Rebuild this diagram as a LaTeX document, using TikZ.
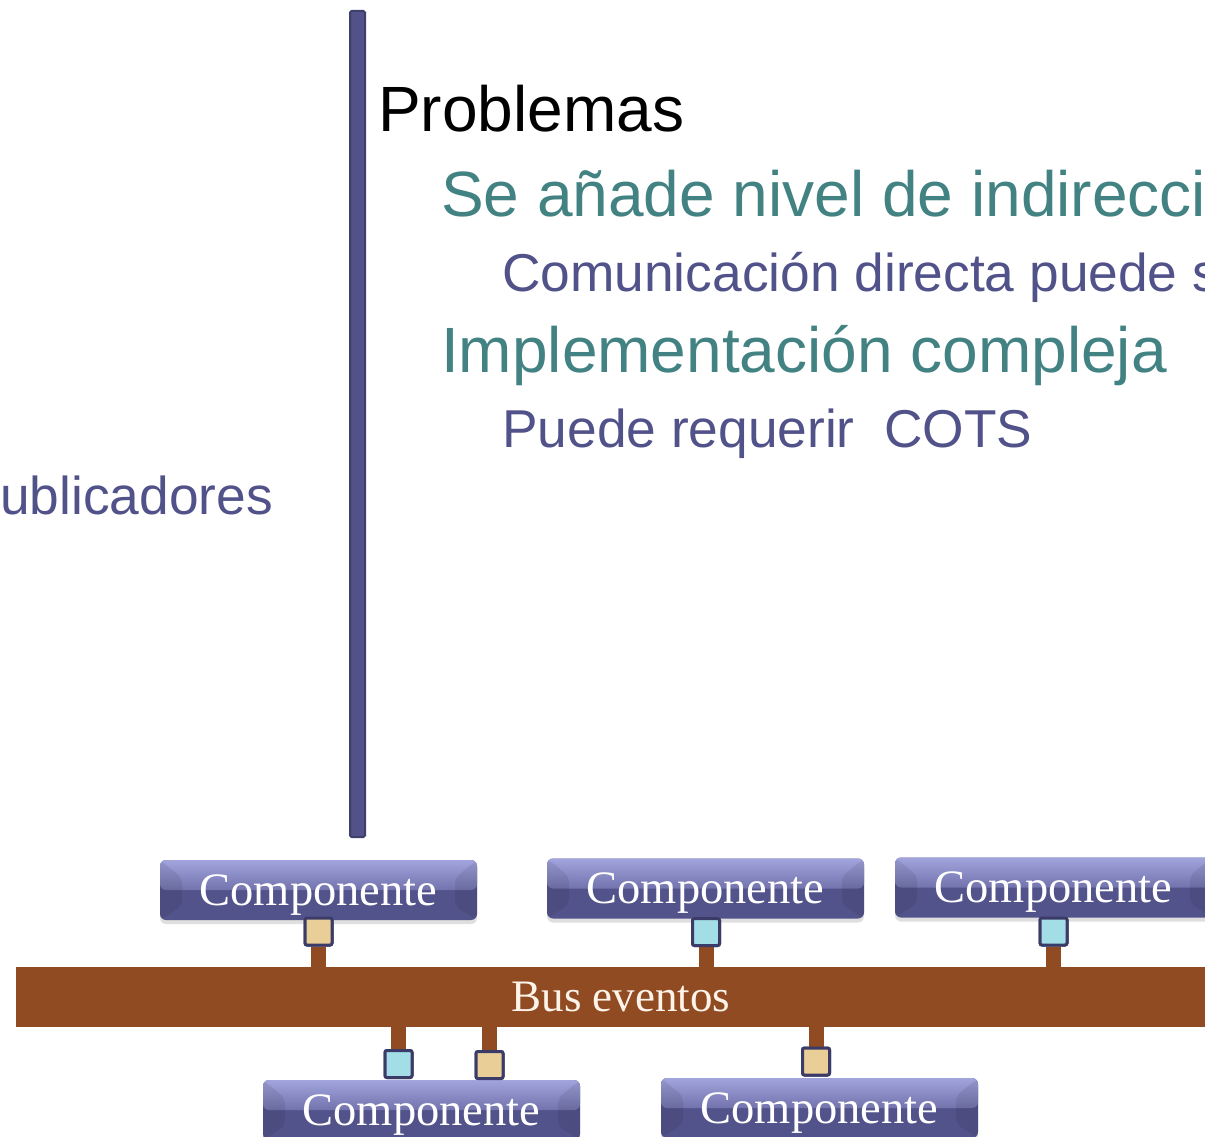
\documentclass[tikz,border=0pt]{standalone}
\usepackage{fontspec}
\setmainfont{Liberation Serif}
\setsansfont{Liberation Sans}
\usetikzlibrary{shadows}
\definecolor{teal1}{HTML}{438283}
\definecolor{purp}{HTML}{52528A}
\definecolor{busc}{HTML}{914B22}
\definecolor{bustext}{HTML}{FDF3E8}
\definecolor{barfill}{HTML}{525288}
\definecolor{barline}{HTML}{3F3F6B}
\definecolor{portline}{HTML}{3B3B68}
\definecolor{beige}{HTML}{E9CF97}
\definecolor{cyanp}{HTML}{A3DDE6}
\definecolor{cb}{HTML}{53538C}
\definecolor{ct}{HTML}{A2A4DE}
\tikzset{
  txt/.style={anchor=base west, inner sep=0pt, font=\sffamily\fontsize{64}{70}\selectfont},
  subtxt/.style={anchor=base west, inner sep=0pt, font=\sffamily\fontsize{53.3}{60}\selectfont, text=purp},
  compbox/.style={rectangle, rounded corners=6pt, minimum width=317pt, minimum height=60pt,
    fill=cb, text=white, inner sep=0pt, text height=32pt, text depth=2pt,
    font=\fontsize{46.5}{50}\selectfont,
    drop shadow={shadow xshift=0pt, shadow yshift=-4pt, opacity=0.25, fill=black!50},
    path picture={
      \shade[top color=ct, bottom color=cb, middle color=cb!60!ct] (path picture bounding box.north west) rectangle ([yshift=-30pt]path picture bounding box.north east);
      \fill[black,opacity=0.08] (path picture bounding box.north west) -- ([xshift=22pt,yshift=-18pt]path picture bounding box.north west) -- ([xshift=22pt,yshift=14pt]path picture bounding box.south west) -- (path picture bounding box.south west) -- cycle;
      \fill[black,opacity=0.08] (path picture bounding box.north east) -- ([xshift=-22pt,yshift=-18pt]path picture bounding box.north east) -- ([xshift=-22pt,yshift=14pt]path picture bounding box.south east) -- (path picture bounding box.south east) -- cycle;
    }},
  port/.style={rectangle, minimum size=27pt, inner sep=0pt, draw=portline, line width=3pt, rounded corners=2pt},
  stem/.style={draw=busc, line width=15pt},
}
\begin{document}
\begin{tikzpicture}[x=1pt,y=-1pt]
\useasboundingbox (0,0) rectangle (1205,1137);
\clip (0,0) rectangle (1205,1137);
\fill[white] (0,0) rectangle (1205,1137);
% vertical bar
\draw[fill=barfill, draw=barline, line width=2pt, rounded corners=1.5pt] (350,11) rectangle (365,837);
% texts
\node[txt, text=black] (t1) at (378,132) {Problemas};
\node[txt, text=teal1] (t2) at (441,216) {Se añade nivel de indirecci};
\node[subtxt] (t3) at (502,291) {Comunicación directa puede s};
\node[txt, text=teal1] (t4) at (441,372) {Implementación compleja};
\node[subtxt] (t5) at (502,447) {Puede requerir~~COTS};
\node[subtxt, anchor=base east] (t6) at (273,514) {ublicadores};
% bus
\node[rectangle, fill=busc, minimum width=1210pt, minimum height=60pt, inner sep=0pt, text=bustext, font=\fontsize{45}{48}\selectfont] (bus) at (621,997) {Bus eventos};
% ports
\node[port, fill=beige] (p1) at (318.5,931.5) {};
\node[port, fill=cyanp] (p2) at (706,932) {};
\node[port, fill=cyanp] (p3) at (1053.5,931.5) {};
\node[port, fill=cyanp] (p4) at (398.5,1064) {};
\node[port, fill=beige] (p5) at (489.5,1065) {};
\node[port, fill=beige] (p6) at (816,1061.5) {};
% stems
\draw[stem] (p1.south) -- (p1.south |- bus.north);
\draw[stem] (p2.south) -- (p2.south |- bus.north);
\draw[stem] (p3.south) -- (p3.south |- bus.north);
\draw[stem] (p4.north) -- (p4.north |- bus.south);
\draw[stem] (p5.north) -- (p5.north |- bus.south);
\draw[stem] (p6.north) -- (p6.north |- bus.south);
% components
\node[compbox] (c1) at (318.5,890) {Componente};
\node[compbox] (c2) at (705.5,888.5) {Componente};
\node[compbox] (c3) at (1053.5,887.5) {Componente};
\node[compbox] (c4) at (421.5,1110) {Componente};
\node[compbox] (c5) at (819.5,1108) {Componente};
% redraw ports on top of boxes
\node[port, fill=beige] at (p1) {};
\node[port, fill=cyanp] at (p2) {};
\node[port, fill=cyanp] at (p3) {};
\node[port, fill=cyanp] at (p4) {};
\node[port, fill=beige] at (p5) {};
\node[port, fill=beige] at (p6) {};
\end{tikzpicture}
\end{document}
